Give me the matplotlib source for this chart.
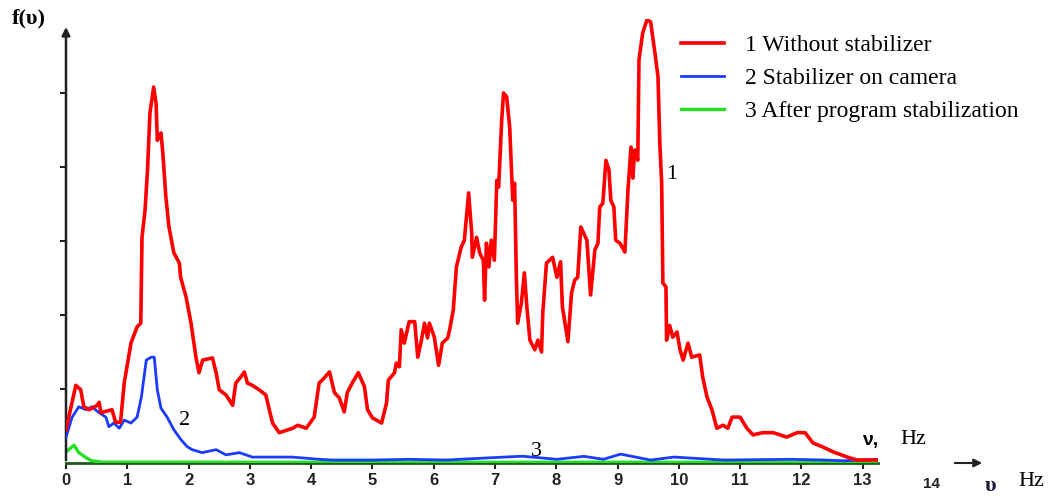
import matplotlib
matplotlib.use("Agg")
import matplotlib.pyplot as plt

# spectra (frequency in Hz, amplitude in tick units)
red_f = [0.00, 0.16, 0.24, 0.29, 0.38, 0.51, 0.54, 0.57, 0.75, 0.81, 0.89, 0.95, 1.06, 1.16, 1.22,
         1.24, 1.29, 1.33, 1.37, 1.43, 1.47, 1.49, 1.55, 1.58, 1.63, 1.68, 1.76, 1.85, 1.87, 1.96,
         2.04, 2.12, 2.17, 2.23, 2.39, 2.45, 2.50, 2.61, 2.72, 2.77, 2.85, 2.91, 2.96, 3.04, 3.15,
         3.26, 3.37, 3.48, 3.70, 3.78, 3.92, 4.05, 4.13, 4.18, 4.30, 4.38, 4.46, 4.54, 4.59, 4.67,
         4.77, 4.87, 4.92, 5.00, 5.15, 5.23, 5.26, 5.36, 5.39, 5.44, 5.47, 5.52, 5.60, 5.69, 5.74,
         5.80, 5.85, 5.90, 5.93, 6.01, 6.08, 6.14, 6.23, 6.26, 6.32, 6.37, 6.45, 6.50, 6.57, 6.62,
         6.63, 6.70, 6.75, 6.81, 6.83, 6.86, 6.90, 6.94, 6.99, 7.03, 7.06, 7.11, 7.14, 7.19, 7.24,
         7.29, 7.32, 7.35, 7.37, 7.43, 7.48, 7.52, 7.57, 7.65, 7.70, 7.76, 7.78, 7.84, 7.94, 8.01,
         8.07, 8.10, 8.19, 8.25, 8.30, 8.35, 8.40, 8.50, 8.56, 8.63, 8.68, 8.71, 8.76, 8.81, 8.86,
         8.89, 8.94, 8.97, 9.04, 9.12, 9.17, 9.22, 9.25, 9.28, 9.33, 9.35, 9.41, 9.48, 9.54, 9.61,
         9.66, 9.69, 9.72, 9.74, 9.79, 9.80, 9.85, 9.90, 9.97, 10.02, 10.07, 10.15, 10.21, 10.34,
         10.39, 10.46, 10.54, 10.62, 10.72, 10.80, 10.87, 11.00, 11.11, 11.21, 11.37, 11.54, 11.76,
         11.93, 12.06, 12.19, 12.34, 12.52, 12.75, 12.91, 13.07, 13.25]
red_a = [0.45, 1.05, 0.99, 0.76, 0.72, 0.78, 0.82, 0.68, 0.72, 0.55, 0.55, 1.08, 1.62, 1.84, 1.89,
         3.05, 3.42, 3.96, 4.73, 5.08, 4.86, 4.36, 4.46, 4.19, 3.59, 3.19, 2.84, 2.70, 2.51, 2.24,
         1.89, 1.43, 1.22, 1.39, 1.42, 1.22, 0.99, 0.92, 0.78, 1.08, 1.16, 1.23, 1.08, 1.05, 0.99,
         0.92, 0.54, 0.41, 0.47, 0.51, 0.47, 0.62, 1.08, 1.12, 1.23, 0.95, 0.88, 0.69, 0.95, 1.08,
         1.22, 1.03, 0.72, 0.61, 0.54, 0.81, 1.12, 1.22, 1.35, 1.30, 1.80, 1.62, 1.91, 1.91, 1.43,
         1.66, 1.89, 1.69, 1.89, 1.70, 1.32, 1.62, 1.69, 1.80, 2.07, 2.65, 2.92, 3.01, 3.65, 3.11,
         2.78, 3.05, 2.84, 2.74, 2.20, 2.97, 2.65, 3.01, 2.74, 3.82, 3.73, 4.64, 5.00, 4.95, 4.54,
         3.55, 3.78, 2.47, 1.89, 2.16, 2.57, 2.11, 1.66, 1.53, 1.66, 1.50, 2.03, 2.70, 2.78, 2.51,
         2.72, 2.11, 1.64, 2.30, 2.47, 2.51, 3.19, 3.01, 2.27, 2.88, 2.97, 3.46, 3.51, 4.09, 3.96,
         3.55, 3.46, 3.01, 2.97, 2.85, 3.69, 4.27, 3.85, 4.23, 4.09, 5.45, 5.81, 5.99, 5.96, 5.54,
         5.22, 4.32, 3.78, 2.43, 2.38, 1.66, 1.86, 1.70, 1.77, 1.53, 1.39, 1.62, 1.43, 1.46,
         1.16, 0.89, 0.72, 0.47, 0.51, 0.47, 0.62, 0.62, 0.47, 0.38, 0.41, 0.41, 0.35,
         0.41, 0.41, 0.27, 0.22, 0.15, 0.08, 0.04, 0.04, 0.04]

blue_f = [0.00, 0.10, 0.21, 0.33, 0.42, 0.54, 0.65, 0.70, 0.78, 0.87, 0.95, 1.06, 1.16, 1.23, 1.31,
          1.39, 1.44, 1.49, 1.55, 1.65, 1.76, 1.88, 1.98, 2.06, 2.22, 2.45, 2.61, 2.83, 3.04, 3.37,
          3.69, 4.13, 4.35, 5.0, 5.6, 6.2, 6.91, 7.40, 7.47, 8.01, 8.45, 8.77, 9.05, 9.54, 9.92,
          10.74, 11.83, 12.37, 12.70, 13.24]
blue_a = [0.35, 0.62, 0.76, 0.72, 0.76, 0.68, 0.62, 0.49, 0.54, 0.47, 0.58, 0.54, 0.62, 0.89, 1.39,
          1.43, 1.43, 0.99, 0.74, 0.62, 0.45, 0.31, 0.22, 0.18, 0.14, 0.18, 0.11, 0.14, 0.08, 0.08,
          0.08, 0.05, 0.04, 0.04, 0.05, 0.04, 0.07, 0.09, 0.09, 0.05, 0.09, 0.05, 0.12, 0.04, 0.08,
          0.04, 0.05, 0.04, 0.03, 0.05]

green_f = [0.00, 0.13, 0.21, 0.33, 0.42, 0.60, 13.25]
green_a = [0.15, 0.24, 0.14, 0.07, 0.03, 0.01, 0.01]

labels = ["1 Without stabilizer", "2 Stabilizer on camera", "3 After program stabilization"]
x_ticks = list(range(14))

fig = plt.figure(figsize=(10.48, 4.96), dpi=100)
ax = fig.add_axes([66 / 1048, 33 / 496, 812 / 1048, 444 / 496])

ax.plot(green_f, green_a, color="#22e022", lw=2.4, label=labels[2], zorder=3)
ax.plot(red_f, red_a, color="#ff0000", lw=2.6, label=labels[0], zorder=5)
ax.plot(blue_f, blue_a, color="#1a3cff", lw=2.0, label=labels[1], zorder=4)

ax.set_xlim(0, 13.25)
ax.set_ylim(0, 6.0)
for s in ["top", "right"]:
    ax.spines[s].set_visible(False)
ax.spines["left"].set_visible(False)
ax.spines["bottom"].set_color("#1f5a1f")
ax.spines["bottom"].set_linewidth(2.0)

# y axis with arrow head
ax.annotate("", xy=(0, 5.93), xytext=(0, 0), xycoords="data",
            arrowprops=dict(arrowstyle="-|>", color="#222222", lw=1.8, mutation_scale=12),
            annotation_clip=False)

ax.set_yticks([1, 2, 3, 4, 5])
ax.set_yticklabels([])
ax.tick_params(axis="y", direction="out", length=4, width=1.5, color="#222222")
ax.set_xticks(x_ticks)
ax.set_xticklabels([str(t) for t in x_ticks], fontsize=12, fontweight="bold",
                   family="Liberation Sans", color="#222222")
ax.tick_params(axis="x", direction="out", length=4, width=1.5, color="#222222", pad=3)

serif = "Liberation Serif"
fig.text(12 / 1048, 1 - 18 / 496, "f(υ)", fontsize=16, fontweight="bold", family=serif,
         va="center", ha="left")
ax.text(9.89, 3.9, "1", fontsize=16, family=serif, va="center", ha="center")
ax.text(1.93, 0.58, "2", fontsize=16, family=serif, va="center", ha="center")
ax.text(7.68, 0.15, "3", fontsize=16, family=serif, va="center", ha="center")
fig.text(862 / 1048, 1 - 440 / 496, "ν,", fontsize=14, fontweight="bold",
         family="Liberation Sans", va="center", ha="left")
fig.text(900 / 1048, 1 - 440 / 496, "Hz", fontsize=16, family=serif, va="center", ha="left")
fig.text(931 / 1048, 1 - 484 / 496, "14", fontsize=11, fontweight="bold",
         family="Liberation Sans", va="center", ha="center", color="#222222")
fig.text(990 / 1048, 1 - 486 / 496, "υ", fontsize=16, fontweight="bold", family=serif,
         va="center", ha="center", color="#1a1a3a")
fig.text(1018 / 1048, 1 - 482 / 496, "Hz", fontsize=16, family=serif, va="center", ha="left")
ax.annotate("", xy=(985 / 1048, 1 - 463 / 496), xytext=(952 / 1048, 1 - 463 / 496),
            xycoords="figure fraction",
            arrowprops=dict(arrowstyle="-|>", color="#222222", lw=1.5, mutation_scale=12))

h, l = ax.get_legend_handles_labels()
order = [1, 2, 0]
leg = fig.legend([h[i] for i in order], [l[i] for i in order], loc="upper left",
                 bbox_to_anchor=(660 / 1048, 1 - 13 / 496), frameon=False,
                 prop={"family": serif, "size": 17}, handlelength=1.8,
                 labelspacing=0.5, handletextpad=0.9)

fig.savefig("out.png", dpi=100)
